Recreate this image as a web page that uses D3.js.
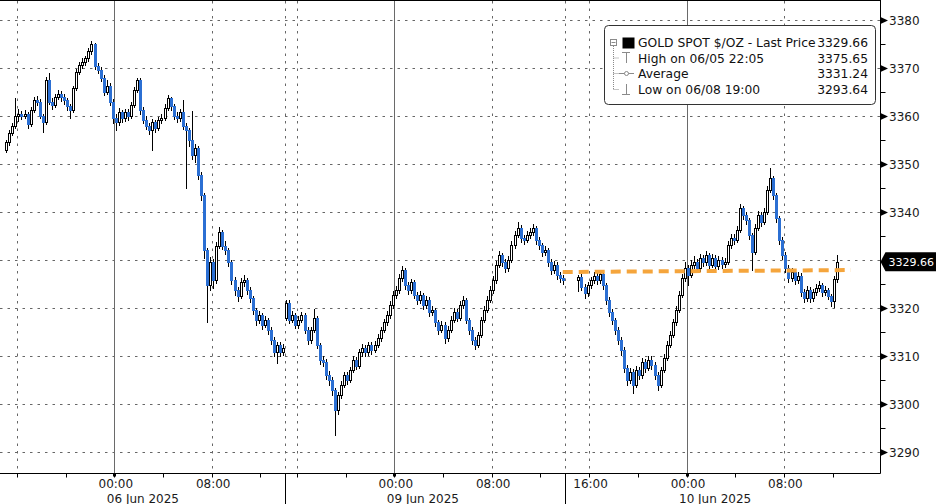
<!DOCTYPE html>
<html><head><meta charset="utf-8">
<script src="https://cdn.jsdelivr.net/npm/d3@7"></script>
<style>
html,body{margin:0;padding:0;background:#fff;}
svg{display:block;font-family:"DejaVu Sans",sans-serif;}
</style></head><body>
<svg id="c" width="936" height="504"></svg>
<script>
// ---------------- DATA ----------------
const segStart = ["2025-06-05T15:00", "2025-06-08T15:00", "2025-06-09T15:00"];
const segOpen = [3353, 3318, 3325.8];

const seg1Close = [3354.5,3356.5,3358,3360,3360.5,3360,3360.4,3358.3,3361.2,3363.3,
3363,3360,3358.7,3367.5,3363,3362.3,3364,3364.6,3364,3363.3,
3362,3361.2,3365.8,3369.2,3370.6,3371.2,3372,3373.5,3375,3370.5,
3369.6,3368,3365,3366.3,3363,3359.6,3358.7,3360.8,3359.6,3360.8,
3360,3362.3,3365.4,3367.5,3361.2,3359.2,3358,3357.1,3358.7,3357.5,
3359.2,3359.6,3361.7,3363.7,3362,3360,3359.6,3360.8,3358,3357,
3355,3351.9,3353.3,3347.7,3343.5,3332,3324.8,3329.6,3325.8,3333,
3335.8,3333,3332,3329.6,3325.8,3323.75,3322.5,3325.4,3325.8,3323.75,
3322,3319.6,3317.5,3318.5,3316.5,3317.5,3315.4,3313.3,3310.8,3312.3,
3310.8,3311.7];
const seg1High = [3355,3357,3358.5,3363.7,3361.5,3361,3361.2,3360.8,3361.8,3364,
3364.2,3363.5,3360.5,3368.2,3369,3363.8,3364.6,3365.4,3365.2,3364.5,
3363.8,3362.6,3366.3,3369.8,3371.3,3372,3372.6,3374.2,3375.65,3375.3,
3371.1,3370.2,3368.5,3367.4,3366.8,3363.5,3360.4,3361.6,3361.3,3361.5,
3361.4,3363,3366,3368,3367.9,3361.8,3360,3358.6,3359.3,3359.2,
3359.8,3360.5,3362.4,3364.3,3364,3362.5,3360.8,3361.5,3363.3,3358.6,
3357.6,3361,3354.2,3353.8,3348.3,3344,3332.5,3330.6,3330.2,3333.8,
3336.9,3336.2,3333.9,3332.6,3330,3326.4,3324.4,3326.2,3326.8,3326.3,
3324.3,3322.5,3320.1,3319.4,3319,3318.4,3318,3316,3313.9,3313,
3312.9,3312.4];
const seg1Low = [3352.5,3354,3356,3357.5,3359,3359.3,3359.5,3357.6,3358,3360.8,
3362.2,3359.5,3356.7,3358.4,3362.5,3361.5,3361.8,3363.5,3363.2,3362.6,
3361.3,3359.6,3360.8,3365.4,3368.7,3369.9,3370.6,3371.5,3373,3369.8,
3368.9,3367.2,3364.3,3364.6,3362.3,3358.6,3357,3358.2,3358.8,3359,
3359.2,3359.6,3361.9,3364.9,3360.5,3358.5,3357.2,3356.2,3353,3356.6,
3357,3358.6,3359.1,3361.2,3361.3,3359.3,3358.7,3359,3357.3,3345,
3353.8,3351,3350.5,3346.8,3342.4,3330.5,3317,3323.8,3324.2,3325.2,
3332.4,3332.2,3331.2,3328.8,3325,3322.8,3321.5,3322,3324.6,3323,
3321.2,3318.8,3316.5,3316.9,3315.6,3316,3314.6,3312.4,3310,3308.5,
3310,3310.2];

const seg2Close = [3321,3317.5,3318.5,3316.5,3317.5,3318.5,3315.4,3313.3,3315.4,3318,
3312.3,3309.2,3308.8,3306,3305,3302.9,3298.75,3301.9,3304,3306,
3305,3307.1,3309.2,3308,3310.8,3311.7,3310.8,3312.3,3311.25,3312.3,
3313.75,3315.4,3317,3318.5,3320.6,3322.7,3323.75,3326.25,3327.9,3324.8,
3323.75,3325.4,3322.7,3321.7,3322.7,3320.6,3321.7,3319.2,3319.6,3317,
3315.4,3316.5,3313.75,3315.4,3317.5,3319.2,3318,3320.6,3321.7,3317.5,
3315.4,3313.3,3312.3,3314.4,3317.5,3319.6,3321.7,3323.75,3325.8,3329,
3331,3329.6,3328.3,3330,3333.1,3335.2,3336.7,3334.6,3334.2,3335.2,
3335.8,3336.7,3334.2,3333.1,3331.7,3332.1,3329.6,3327.9,3329,3326.9,
3326.25,3325.8];
const seg2High = [3321.7,3321.7,3319.3,3319,3318.3,3319.2,3318.9,3316,3316.1,3319.8,
3318.4,3312.8,3310,3309.4,3306.8,3305.6,3303.4,3302.6,3304.8,3306.7,
3306.6,3307.8,3310,3309.8,3311.5,3312.5,3312.3,3313,3312.9,3313.1,
3314.5,3316.1,3317.8,3319.3,3321.4,3323.5,3324.6,3327,3328.75,3328.3,
3325.5,3326.1,3325.9,3323.4,3323.5,3323.2,3322.5,3322.2,3320.5,3320,
3317.6,3317.3,3317,3316.2,3318.3,3320,3319.8,3321.4,3322.6,3322.1,
3318,3316,3314,3315.1,3318.2,3320.4,3322.5,3324.6,3326.6,3329.8,
3331.8,3331.5,3330.2,3330.8,3333.9,3336,3338,3337.2,3335.3,3336,
3336.6,3337.5,3337.1,3334.8,3333.6,3332.9,3332.6,3330.2,3329.8,3329.5,
3327.6,3326.9];
const seg2Low = [3317.4,3316.8,3317,3315.8,3315.9,3317,3314.8,3312.5,3312.8,3314.9,
3311.6,3308.4,3307.9,3305.2,3304,3301.8,3293.64,3298,3301.3,3303.5,
3304.2,3304.5,3306.6,3307.2,3307.6,3310.1,3310,3310.3,3310.5,3310.8,
3311.8,3313.2,3314.9,3316.4,3318,3320.1,3322,3323.2,3325.7,3324,
3322.9,3323.1,3322,3320.9,3321,3319.8,3320,3318.4,3318.6,3316.2,
3314.5,3314.9,3312.8,3313.1,3314.9,3317,3317.2,3317.5,3320,3316.8,
3314.6,3312.5,3311.4,3311.8,3314,3317,3319.1,3321.2,3323.2,3325.3,
3328.5,3328.8,3327.5,3327.8,3329.5,3332.6,3334.7,3333.8,3333.4,3333.7,
3334.6,3335.2,3333.4,3332.3,3330.9,3331,3328.8,3327.1,3327.3,3326.1,
3325.5,3325];

const seg3Close = [3326.5,3324.4,3323.1,3324.8,3325.8,3326.7,3325.8,3327,3324.8,3321.7,
3319.2,3317.5,3315.4,3313.3,3311.25,3307.5,3305,3306.7,3304,3307.1,
3306,3308.75,3307.5,3309.2,3308.1,3306,3304,3307.1,3309.6,3312.3,
3314.4,3317,3319.6,3322.7,3326.25,3328.3,3326.9,3329,3329.6,3328.3,
3330.4,3329.6,3331,3329,3330.4,3328.75,3330,3329.2,3329.6,3333.1,
3334.6,3334.2,3336.25,3340.8,3339.4,3338.3,3335.2,3331.7,3336.7,3339.4,
3337.9,3340,3344.6,3347.1,3343.5,3338.75,3334.2,3331,3328.3,3326.25,
3327.5,3325.8,3326.7,3323.3,3322,3323.75,3322,3323.3,3324.2,3324.8,
3323.3,3323.75,3322.5,3321.5,3326,3329.66];
const seg3High = [3326.8,3327,3325,3325.5,3326.5,3327.4,3327.2,3327.9,3327.5,3325.3,
3322.3,3319.8,3318,3316,3314,3311.8,3308.2,3307.5,3307.3,3307.9,
3307.8,3309.6,3309.4,3310,3309.9,3308.7,3306.6,3307.8,3310.4,3313.1,
3315.2,3317.8,3320.4,3323.5,3327.1,3329.6,3328.9,3329.9,3330.8,3330.2,
3331.2,3331,3331.8,3331.5,3331.2,3331,3330.8,3330.6,3330.5,3333.9,
3335.4,3335.4,3337,3341.6,3341.3,3340,3338.8,3335.7,3337.5,3340.2,
3340,3340.8,3345.4,3349.2,3347.6,3344,3339.2,3334.8,3331.6,3328.9,
3328.3,3328,3327.5,3327.2,3323.9,3324.5,3324.3,3324,3325,3325.6,
3325.3,3324.5,3324.2,3323,3326.7,3331];
const seg3Low = [3323.5,3323.7,3322,3322.6,3324.2,3325.2,3325,3325.2,3324,3320.8,
3318.3,3316.6,3314.5,3312.4,3310.3,3306.6,3304,3304.3,3302.3,3303.5,
3305.2,3305.5,3306.7,3307,3307.3,3305.2,3303,3303.5,3306.6,3309.1,
3311.8,3313.9,3316.5,3319.1,3322.2,3325.7,3324.8,3326.4,3328.4,3327.4,
3327.8,3328.8,3329,3328.2,3328.5,3328,3328.2,3328.4,3328.6,3329.1,
3332.6,3333.4,3333.7,3335.8,3338.6,3337.5,3334.4,3328,3331.2,3336.2,
3337.1,3337.4,3339.5,3344.1,3342.7,3337.9,3333.4,3330.2,3327.4,3325.4,
3325.7,3325,3325.2,3322.5,3321.2,3321.5,3321.2,3321.5,3322.8,3323.6,
3322.6,3322.7,3321.8,3320.5,3320.2,3325.5];

const yTicks = [3290,3300,3310,3320,3330,3340,3350,3360,3370,3380];
const lastPrice = 3329.66;

const xTickTimes = ["2025-06-05T16:00","2025-06-05T20:00","2025-06-06T00:00","2025-06-06T04:00","2025-06-06T08:00","2025-06-06T12:00",
  "2025-06-08T16:00","2025-06-08T20:00","2025-06-09T00:00","2025-06-09T04:00","2025-06-09T08:00","2025-06-09T12:00",
  "2025-06-09T16:00","2025-06-09T20:00","2025-06-10T00:00","2025-06-10T04:00","2025-06-10T08:00","2025-06-10T12:00"];
const xLabelTimes = ["2025-06-06T00:00","2025-06-06T08:00","2025-06-09T00:00","2025-06-09T08:00","2025-06-09T16:00","2025-06-10T00:00","2025-06-10T08:00"];
const xLabels = ["00:00","08:00","00:00","08:00","16:00","00:00","08:00"];
const dateTimes = ["2025-06-06T00:00","2025-06-09T00:00","2025-06-10T00:00"];
const dateLabels = ["06 Jun 2025","09 Jun 2025","10 Jun 2025"];
const sepTimes = ["2025-06-06T14:00","2025-06-09T14:00"];
const dashGridTimes = ["2025-06-05T16:00","2025-06-06T08:00","2025-06-06T14:00","2025-06-08T16:00","2025-06-09T08:00","2025-06-09T14:00","2025-06-09T16:00","2025-06-10T08:00"];
const gapTimes = ["2025-06-06T14:00","2025-06-08T15:00"];

const refLineTimes = ["2025-06-09T13:50","2025-06-10T13:30"];
const refLineValues = [3327.5, 3327.9];

const legendLabels = ["GOLD SPOT $/OZ - Last Price","High on 06/05 22:05","Average","Low on 06/08 19:00"];
const legendValues = ["3329.66","3375.65","3331.24","3293.64"];

// ---------------- SCALES ----------------
const parseT = d3.utcParse("%Y-%m-%dT%H:%M");
const gapA = parseT(gapTimes[0]), gapB = parseT(gapTimes[1]);
const gapH = (gapB - gapA) / 36e5;
const origin = parseT("2025-06-05T00:00");
const th = d => (d - origin) / 36e5 - (d >= gapB ? gapH : 0);
const xs = d3.scaleLinear()
  .domain([th(parseT("2025-06-06T00:00")), th(parseT("2025-06-10T00:00"))])
  .range([114.3, 686.5]);
const X = d => xs(th(d));
const y = d3.scaleLinear().domain([3290, 3380]).range([452, 20]);

const PR = 880.5, PB = 473.5;

const segs = [[seg1Close, seg1High, seg1Low],[seg2Close, seg2High, seg2Low],[seg3Close, seg3High, seg3Low]];
const candles = [];
segs.forEach((s, k) => {
  const t0 = parseT(segStart[k]);
  let prev = segOpen[k];
  s[0].forEach((c, i) => {
    candles.push({t: new Date(+t0 + i * 15 * 60000 + 7.5 * 60000), o: prev, h: s[1][i], l: s[2][i], c: c});
    prev = c;
  });
});

const svg = d3.select("#c");
svg.append("rect").attr("width", 936).attr("height", 504).attr("fill", "#fff");

svg.append("defs").append("clipPath").attr("id", "plot")
  .append("rect").attr("x", 0).attr("y", 1).attr("width", PR).attr("height", PB - 1);

// gridlines
const grid = svg.append("g");
grid.selectAll(".hg").data(yTicks).join("line")
  .attr("x1", 0).attr("x2", PR).attr("y1", d => Math.round(y(d)) + 0.5).attr("y2", d => Math.round(y(d)) + 0.5)
  .attr("stroke", "#666").attr("stroke-dasharray", "2.5,5");
grid.selectAll(".vg").data(dashGridTimes).join("line")
  .attr("x1", d => Math.round(X(parseT(d))) + 0.5).attr("x2", d => Math.round(X(parseT(d))) + 0.5)
  .attr("y1", 1).attr("y2", PB)
  .attr("stroke", "#666").attr("stroke-dasharray", "2.5,5");
grid.selectAll(".vs").data(dateTimes).join("line")
  .attr("x1", d => Math.round(X(parseT(d))) + 0.5).attr("x2", d => Math.round(X(parseT(d))) + 0.5)
  .attr("y1", 1).attr("y2", PB)
  .attr("stroke", "#6a6a6a");

// candles (pixel-snapped)
const cg = svg.append("g").attr("clip-path", "url(#plot)").attr("shape-rendering", "crispEdges");
const up = d => d.c >= d.o;
const cx = d => Math.round(X(d.t));
cg.selectAll(".w").data(candles).join("line")
  .attr("x1", d => cx(d) + 0.5).attr("x2", d => cx(d) + 0.5)
  .attr("y1", d => Math.round(y(d.h))).attr("y2", d => Math.round(y(d.l)) + 1)
  .attr("stroke", "#000").attr("stroke-width", 1);
cg.selectAll(".bu").data(candles.filter(up)).join("rect")
  .attr("x", d => cx(d) - 0.5).attr("width", 2)
  .attr("y", d => Math.round(y(d.c)) + 0.5)
  .attr("height", d => Math.max(1, Math.round(y(d.o)) - Math.round(y(d.c))))
  .attr("fill", "#fff").attr("stroke", "#000").attr("stroke-width", 1);
cg.selectAll(".bd").data(candles.filter(d => !up(d))).join("rect")
  .attr("x", d => cx(d) - 1).attr("width", 3)
  .attr("y", d => Math.round(y(d.o)))
  .attr("height", d => Math.max(2, Math.round(y(d.c)) - Math.round(y(d.o)) + 1))
  .attr("fill", "#2b6fd3");

// orange reference line
svg.append("line")
  .attr("x1", X(parseT(refLineTimes[0]))).attr("x2", X(parseT(refLineTimes[1])))
  .attr("y1", y(refLineValues[0])).attr("y2", y(refLineValues[1]))
  .attr("stroke", "#f5a53c").attr("stroke-width", 4).attr("stroke-dasharray", "10,6");

// frame
svg.append("line").attr("x1", 0).attr("x2", PR).attr("y1", 0.5).attr("y2", 0.5).attr("stroke", "#000");
svg.append("line").attr("x1", PR).attr("x2", PR).attr("y1", 0).attr("y2", PB).attr("stroke", "#000");
svg.append("line").attr("x1", 0).attr("x2", PR).attr("y1", PB).attr("y2", PB).attr("stroke", "#000");

// right axis
const ya = svg.append("g");
const ly = y(lastPrice);
d3.range(3295, 3380, 10).forEach(v => {
  ya.append("line").attr("x1", PR).attr("x2", PR + 5).attr("y1", Math.round(y(v)) + 0.5).attr("y2", Math.round(y(v)) + 0.5).attr("stroke", "#000");
});
yTicks.filter(v => Math.abs(y(v) - ly) > 12).forEach(v => {
  const yy = Math.round(y(v)) + 0.5;
  ya.append("path").attr("d", `M${PR},${yy - 3.5}L${PR + 7.5},${yy}L${PR},${yy + 3.5}Z`).attr("fill", "#000");
  ya.append("text").attr("x", 889).attr("y", yy + 4.5).attr("font-size", 12).attr("fill", "#1a1a1a").text(v);
});
// last price tag
ya.append("path").attr("d", `M${PR},${ly}L${PR + 5},${ly - 9.5}L936,${ly - 9.5}L936,${ly + 9.5}L${PR + 5},${ly + 9.5}Z`).attr("fill", "#000");
ya.append("text").attr("x", 888.5).attr("y", ly + 4.2).attr("font-size", 11).attr("fill", "#fff").text(lastPrice.toFixed(2));

// x axis
const xa = svg.append("g");
xTickTimes.forEach(t => {
  const xx = Math.round(X(parseT(t))) + 0.5;
  xa.append("line").attr("x1", xx).attr("x2", xx).attr("y1", PB).attr("y2", PB + 4).attr("stroke", "#000");
});
dateTimes.forEach(t => {
  const xx = Math.round(X(parseT(t)));
  xa.append("rect").attr("x", xx - 1).attr("y", PB).attr("width", 3).attr("height", 3).attr("fill", "#000");
});
sepTimes.forEach(t => {
  const xx = Math.round(X(parseT(t))) + 0.5;
  xa.append("line").attr("x1", xx).attr("x2", xx).attr("y1", PB).attr("y2", 504).attr("stroke", "#000");
});
xLabelTimes.forEach((t, i) => {
  xa.append("text").attr("x", X(parseT(t)) + 1.5).attr("y", 488).attr("text-anchor", "middle")
    .attr("font-size", 12).attr("fill", "#1a1a1a").text(xLabels[i]);
});
dateTimes.forEach((t, i) => {
  xa.append("text").attr("x", X(parseT(t)) - 7.5).attr("y", 502.5)
    .attr("font-size", 12).attr("fill", "#1a1a1a").text(dateLabels[i]);
});

// legend
const lg = svg.append("g");
lg.append("rect").attr("x", 604.5).attr("y", 25.5).attr("width", 271).attr("height", 79).attr("rx", 4)
  .attr("fill", "#fff").attr("stroke", "#333");
const rowY = [42.5, 58, 73.5, 89.5];
const gray = "#8a8a8a";
lg.append("rect").attr("x", 610.5).attr("y", 39.5).attr("width", 6).attr("height", 6).attr("fill", "#fff").attr("stroke", gray);
lg.append("line").attr("x1", 611.5).attr("x2", 615.5).attr("y1", 42.5).attr("y2", 42.5).attr("stroke", gray);
lg.append("line").attr("x1", 613.5).attr("x2", 613.5).attr("y1", 46).attr("y2", rowY[3]).attr("stroke", gray).attr("stroke-dasharray", "1,1");
[1, 2, 3].forEach(i => lg.append("line").attr("x1", 613.5).attr("x2", 619).attr("y1", rowY[i]).attr("y2", rowY[i]).attr("stroke", gray).attr("stroke-dasharray", "1,1"));
lg.append("rect").attr("x", 622.5).attr("y", 37.5).attr("width", 12).attr("height", 11).attr("fill", "#000");
lg.append("line").attr("x1", 622).attr("x2", 630).attr("y1", 52.5).attr("y2", 52.5).attr("stroke", gray);
lg.append("line").attr("x1", 626.5).attr("x2", 626.5).attr("y1", 52.5).attr("y2", 63).attr("stroke", gray);
lg.append("line").attr("x1", 619).attr("x2", 634).attr("y1", rowY[2]).attr("y2", rowY[2]).attr("stroke", gray);
lg.append("circle").attr("cx", 626.5).attr("cy", rowY[2]).attr("r", 2).attr("fill", "#fff").attr("stroke", gray);
lg.append("line").attr("x1", 626.5).attr("x2", 626.5).attr("y1", 84).attr("y2", 94.5).attr("stroke", gray);
lg.append("line").attr("x1", 622).attr("x2", 630).attr("y1", 94.5).attr("y2", 94.5).attr("stroke", gray);
legendLabels.forEach((s, i) => {
  lg.append("text").attr("x", 638).attr("y", rowY[i] + 4.5).attr("font-size", 12.3).attr("fill", "#111").text(s);
  lg.append("text").attr("x", 868).attr("y", rowY[i] + 4.5).attr("font-size", 12.3).attr("fill", "#111")
    .attr("text-anchor", "end").text(legendValues[i]);
});
</script>
</body></html>
